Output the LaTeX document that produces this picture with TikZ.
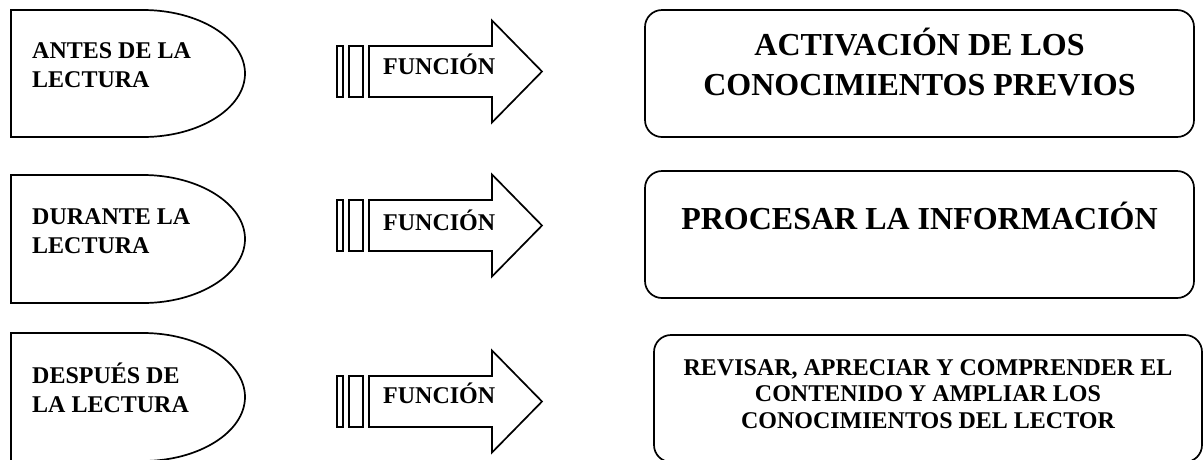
\documentclass[tikz,border=0pt]{standalone}
\usepackage{fontspec}
\setmainfont{Liberation Serif}
\usetikzlibrary{positioning}

\begin{document}
\begin{tikzpicture}[x=1pt, y=-1pt,
    phase/.style={draw, line width=1.7pt},
    phasetext/.style={anchor=base west, align=left, inner sep=0pt, font=\fontsize{24}{29}\selectfont\bfseries},
    bar/.style={draw, line width=1.7pt},
    functext/.style={anchor=base west, inner sep=0pt, font=\fontsize{24}{29}\selectfont\bfseries},
    goal/.style={rectangle, rounded corners=17pt, draw, line width=1.7pt, minimum width=549pt, minimum height=127pt, inner sep=0pt},
    goaltext/.style={anchor=base, align=center, inner sep=0pt, font=\fontsize{32}{40}\selectfont\bfseries},
    smallgoaltext/.style={anchor=base, align=center, inner sep=0pt, font=\fontsize{24}{26.5}\selectfont\bfseries}
]
\useasboundingbox (0,0) rectangle (1204,459);

% Reading phases (left side)
\draw[phase] (11,10) -- ++(132,0) .. controls +(56,0) and +(0,-35) .. ++(102,63.5)
    .. controls +(0,35) and +(56,0) .. ++(-102,63.5) -- ++(-132,0) -- cycle;
\draw[phase] (11,175) -- ++(132,0) .. controls +(56,0) and +(0,-35) .. ++(102,64)
    .. controls +(0,35) and +(56,0) .. ++(-102,64) -- ++(-132,0) -- cycle;
\draw[phase] (11,333) -- ++(132,0) .. controls +(56,0) and +(0,-35) .. ++(102,64)
    .. controls +(0,35) and +(56,0) .. ++(-102,64) -- ++(-132,0) -- cycle;
\node[phasetext] (antes) at (32,87) {ANTES DE LA\\LECTURA};
\node[phasetext] (durante) at (32,253) {DURANTE LA\\LECTURA};
\node[phasetext] (despues) at (32,412) {DESPUÉS DE\\LA LECTURA};

% Function arrows (middle)
\draw[bar] (337,46) rectangle (343,97);
\draw[bar] (349,46) rectangle (363,97);
\draw[phase] (369,46) -- ++(123,0) -- ++(0,-25.5) -- ++(50,51) -- ++(-50,51) -- ++(0,-25.5) -- ++(-123,0) -- cycle;
\node[functext] (f1) at (383,74) {FUNCIÓN};

\draw[bar] (337,200) rectangle (343,251);
\draw[bar] (349,200) rectangle (363,251);
\draw[phase] (369,200) -- ++(123,0) -- ++(0,-25.5) -- ++(50,51) -- ++(-50,51) -- ++(0,-25.5) -- ++(-123,0) -- cycle;
\node[functext] (f2) at (383,230) {FUNCIÓN};

\draw[bar] (337,376) rectangle (343,427);
\draw[bar] (349,376) rectangle (363,427);
\draw[phase] (369,376) -- ++(123,0) -- ++(0,-25.5) -- ++(50,51) -- ++(-50,51) -- ++(0,-25.5) -- ++(-123,0) -- cycle;
\node[functext] (f3) at (383,403) {FUNCIÓN};

% Goals (right side)
\node[goal] (g1) at (919.5,73.5) {};
\node[goal] (g2) at (919.5,234.5) {};
\node[goal, minimum width=548pt] (g3) at (928,398.5) {};
\node[goaltext] (t1) at (919.5,95) {ACTIVACIÓN DE LOS\\CONOCIMIENTOS PREVIOS};
\node[goaltext] (t2) at (919.5,229) {PROCESAR LA INFORMACIÓN};
\node[smallgoaltext] (t3) at (928,428) {REVISAR, APRECIAR Y COMPRENDER EL\\CONTENIDO Y AMPLIAR LOS\\CONOCIMIENTOS DEL LECTOR};

\end{tikzpicture}
\end{document}
